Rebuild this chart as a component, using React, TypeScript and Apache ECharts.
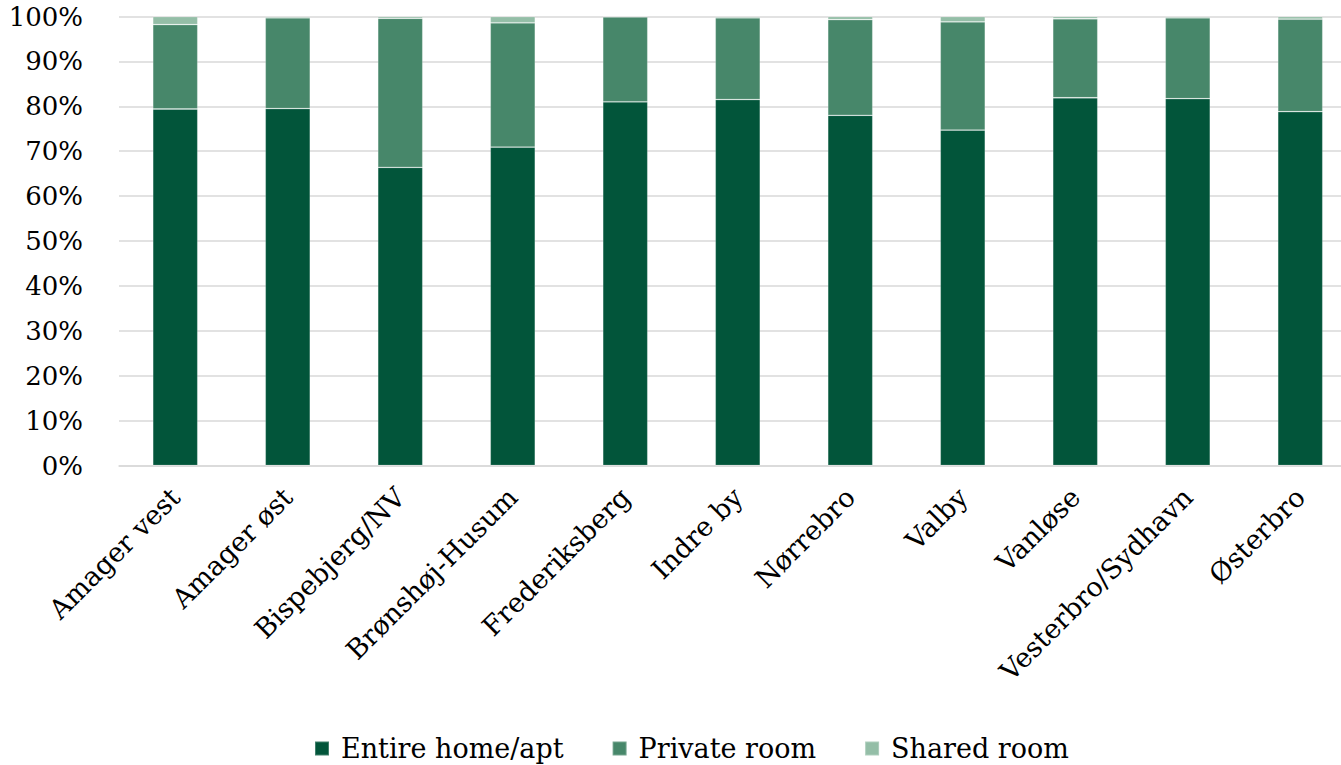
import React, { useEffect, useRef } from "react";
import * as echarts from "echarts";

const categories = [
  "Amager vest",
  "Amager øst",
  "Bispebjerg/NV",
  "Brønshøj-Husum",
  "Frederiksberg",
  "Indre by",
  "Nørrebro",
  "Valby",
  "Vanløse",
  "Vesterbro/Sydhavn",
  "Østerbro",
];
const entireHome = [79.4, 79.5, 66.4, 70.9, 81.0, 81.5, 78.0, 74.7, 81.9, 81.7, 78.8];
const privateRoom = [18.8, 20.2, 33.2, 27.7, 18.9, 18.2, 21.3, 24.1, 17.6, 18.0, 20.6];
const sharedRoom = [1.8, 0.3, 0.4, 1.4, 0.1, 0.3, 0.7, 1.2, 0.5, 0.3, 0.6];
const seriesNames = ["Entire home/apt", "Private room", "Shared room"];
const colors = ["#02553A", "#47876A", "#94BEA7"];

const FONT = "'DejaVu Serif', Georgia, serif";

export default function App() {
  const ref = useRef<HTMLDivElement>(null);
  useEffect(() => {
    if (!ref.current) return;
    const chart = echarts.init(ref.current, undefined, { renderer: "svg" });
    const data = [entireHome, privateRoom, sharedRoom];
    chart.setOption({
      animation: false,
      color: colors,
      textStyle: { fontFamily: FONT },
      legend: {
        top: 730,
        left: 309,
        itemWidth: 14,
        itemHeight: 14,
        itemGap: 48,
        icon: "rect",
        textStyle: { fontFamily: FONT, fontSize: 27, color: "#000", padding: [0, 0, 0, 7] },
        data: seriesNames,
      },
      grid: { left: 119, top: 16.5, width: 1237.5, height: 449, containLabel: false },
      xAxis: {
        type: "category",
        data: categories,
        axisLine: { lineStyle: { color: "#d9d9d9", width: 1.5 } },
        axisTick: { show: false },
        axisLabel: {
          rotate: 45,
          margin: 27,
          interval: 0,
          fontFamily: FONT,
          fontSize: 27,
          color: "#000",
        },
      },
      yAxis: {
        type: "value",
        min: 0,
        max: 100,
        interval: 10,
        axisLine: { show: false },
        axisTick: { show: false },
        splitLine: { lineStyle: { color: "#d9d9d9", width: 1.5 } },
        axisLabel: {
          formatter: "{value}%",
          margin: 36,
          fontFamily: FONT,
          fontSize: 26,
          color: "#000",
        },
      },
      series: seriesNames.map((name, i) => ({
        name,
        type: "bar",
        stack: "total",
        barWidth: 45,
        data: data[i],
        itemStyle: { color: colors[i], borderColor: "rgba(255,255,255,0.25)", borderWidth: 0.8 },
      })),
    });
    return () => chart.dispose();
  }, []);
  return (
    <div
      style={{
        position: "fixed",
        left: 0,
        top: 0,
        width: 1341,
        height: 765,
        overflow: "hidden",
        background: "#fff",
      }}
    >
      <div ref={ref} style={{ width: 1380, height: 765 }} />
    </div>
  );
}
